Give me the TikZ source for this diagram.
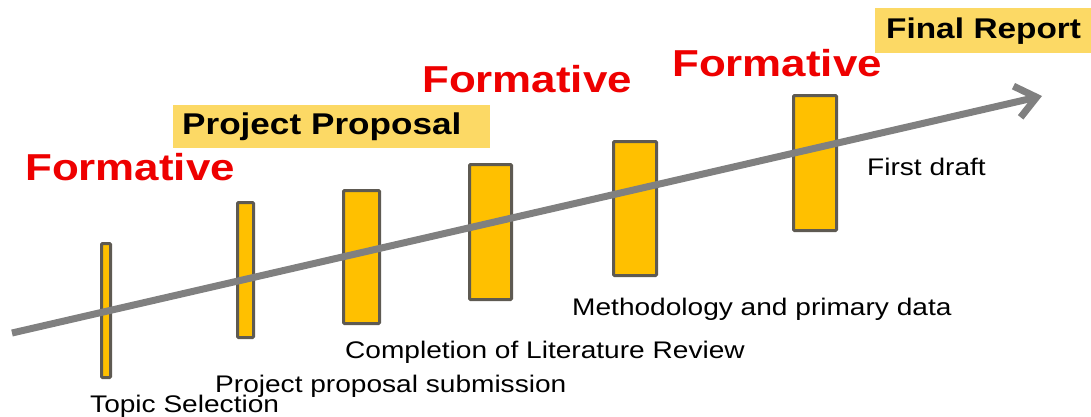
\documentclass[tikz,border=0pt]{standalone}
\usepackage{fontspec}
\setmainfont[FakeStretch=1.17]{Liberation Sans}
\usepackage{tikz}
\usetikzlibrary{arrows.meta}
\definecolor{barfill}{HTML}{FFC000}
\definecolor{barline}{HTML}{5E5A52}
\definecolor{axisgray}{HTML}{808080}
\definecolor{hilite}{HTML}{FCD965}
\definecolor{alert}{HTML}{EE0000}
\tikzset{
  Bar/.style={
    draw=barline, line width=3pt,
    fill=barfill, rounded corners=1pt,
    inner sep=0pt
  },
  Timeline/.style={
    draw=axisgray, line width=7pt,
    -{Straight Barb[length=20pt,width=32pt]}
  },
  StageText/.style={anchor=base west, inner sep=0pt, font=\fontsize{24}{28}\selectfont},
  FormText/.style={anchor=base west, inner sep=0pt, text=alert,
    font=\bfseries\fontsize{37.5}{42}\selectfont},
  HeadBox/.style={anchor=north west, fill=hilite, inner ysep=0pt,
    align=left, font=\bfseries\fontsize{30}{34}\selectfont}
}
\newcommand{\StageBar}[5]{%
  % #1 = name, #2,#3 = centre, #4 = width, #5 = height
  \node[Bar, minimum width=#4, minimum height=#5] (#1) at (#2,#3) {};
}

\begin{document}
\begin{tikzpicture}[x=1pt, y=-1pt]
  \useasboundingbox (0,0) rectangle (1091,416);

  % stage bars
  \StageBar{topic}{106}{310.5}{9pt}{134pt}
  \StageBar{proposal}{245.5}{270}{16pt}{135pt}
  \StageBar{litrev}{361.5}{257}{36pt}{133pt}
  \StageBar{midway}{490.5}{232}{42pt}{135pt}
  \StageBar{method}{635}{208.5}{43pt}{134pt}
  \StageBar{draft}{815}{163}{43pt}{135pt}

  % timeline arrow over the bars
  \coordinate (tail) at (12,333);
  \coordinate (head) at (1042,96);
  \draw[Timeline] (tail) -- (head);

  % stage labels
  \node[StageText] (topicLbl) at (90,412) {Topic Selection};
  \node[StageText] (proposalLbl) at (215,392) {Project proposal submission};
  \node[StageText] (litrevLbl) at (345,358) {Completion of Literature Review};
  \node[StageText] (methodLbl) at (572,315) {Methodology and primary data};
  \node[StageText] (draftLbl) at (867,175) {First draft};

  % assessment labels
  \node[FormText] (formA) at (25,180) {Formative};
  \node[FormText] (formB) at (422,92) {Formative};
  \node[FormText] (formC) at (672,76) {Formative};
  \node[HeadBox, inner xsep=9pt, text width=299pt, minimum height=43pt]
    (proposalHead) at (173,105) {Project Proposal};
  \node[HeadBox, inner xsep=11pt, text width=230pt, minimum height=45pt,
    font=\bfseries\fontsize{28.5}{33}\selectfont]
    (finalHead) at (875,8) {Final Report};
\end{tikzpicture}
\end{document}
